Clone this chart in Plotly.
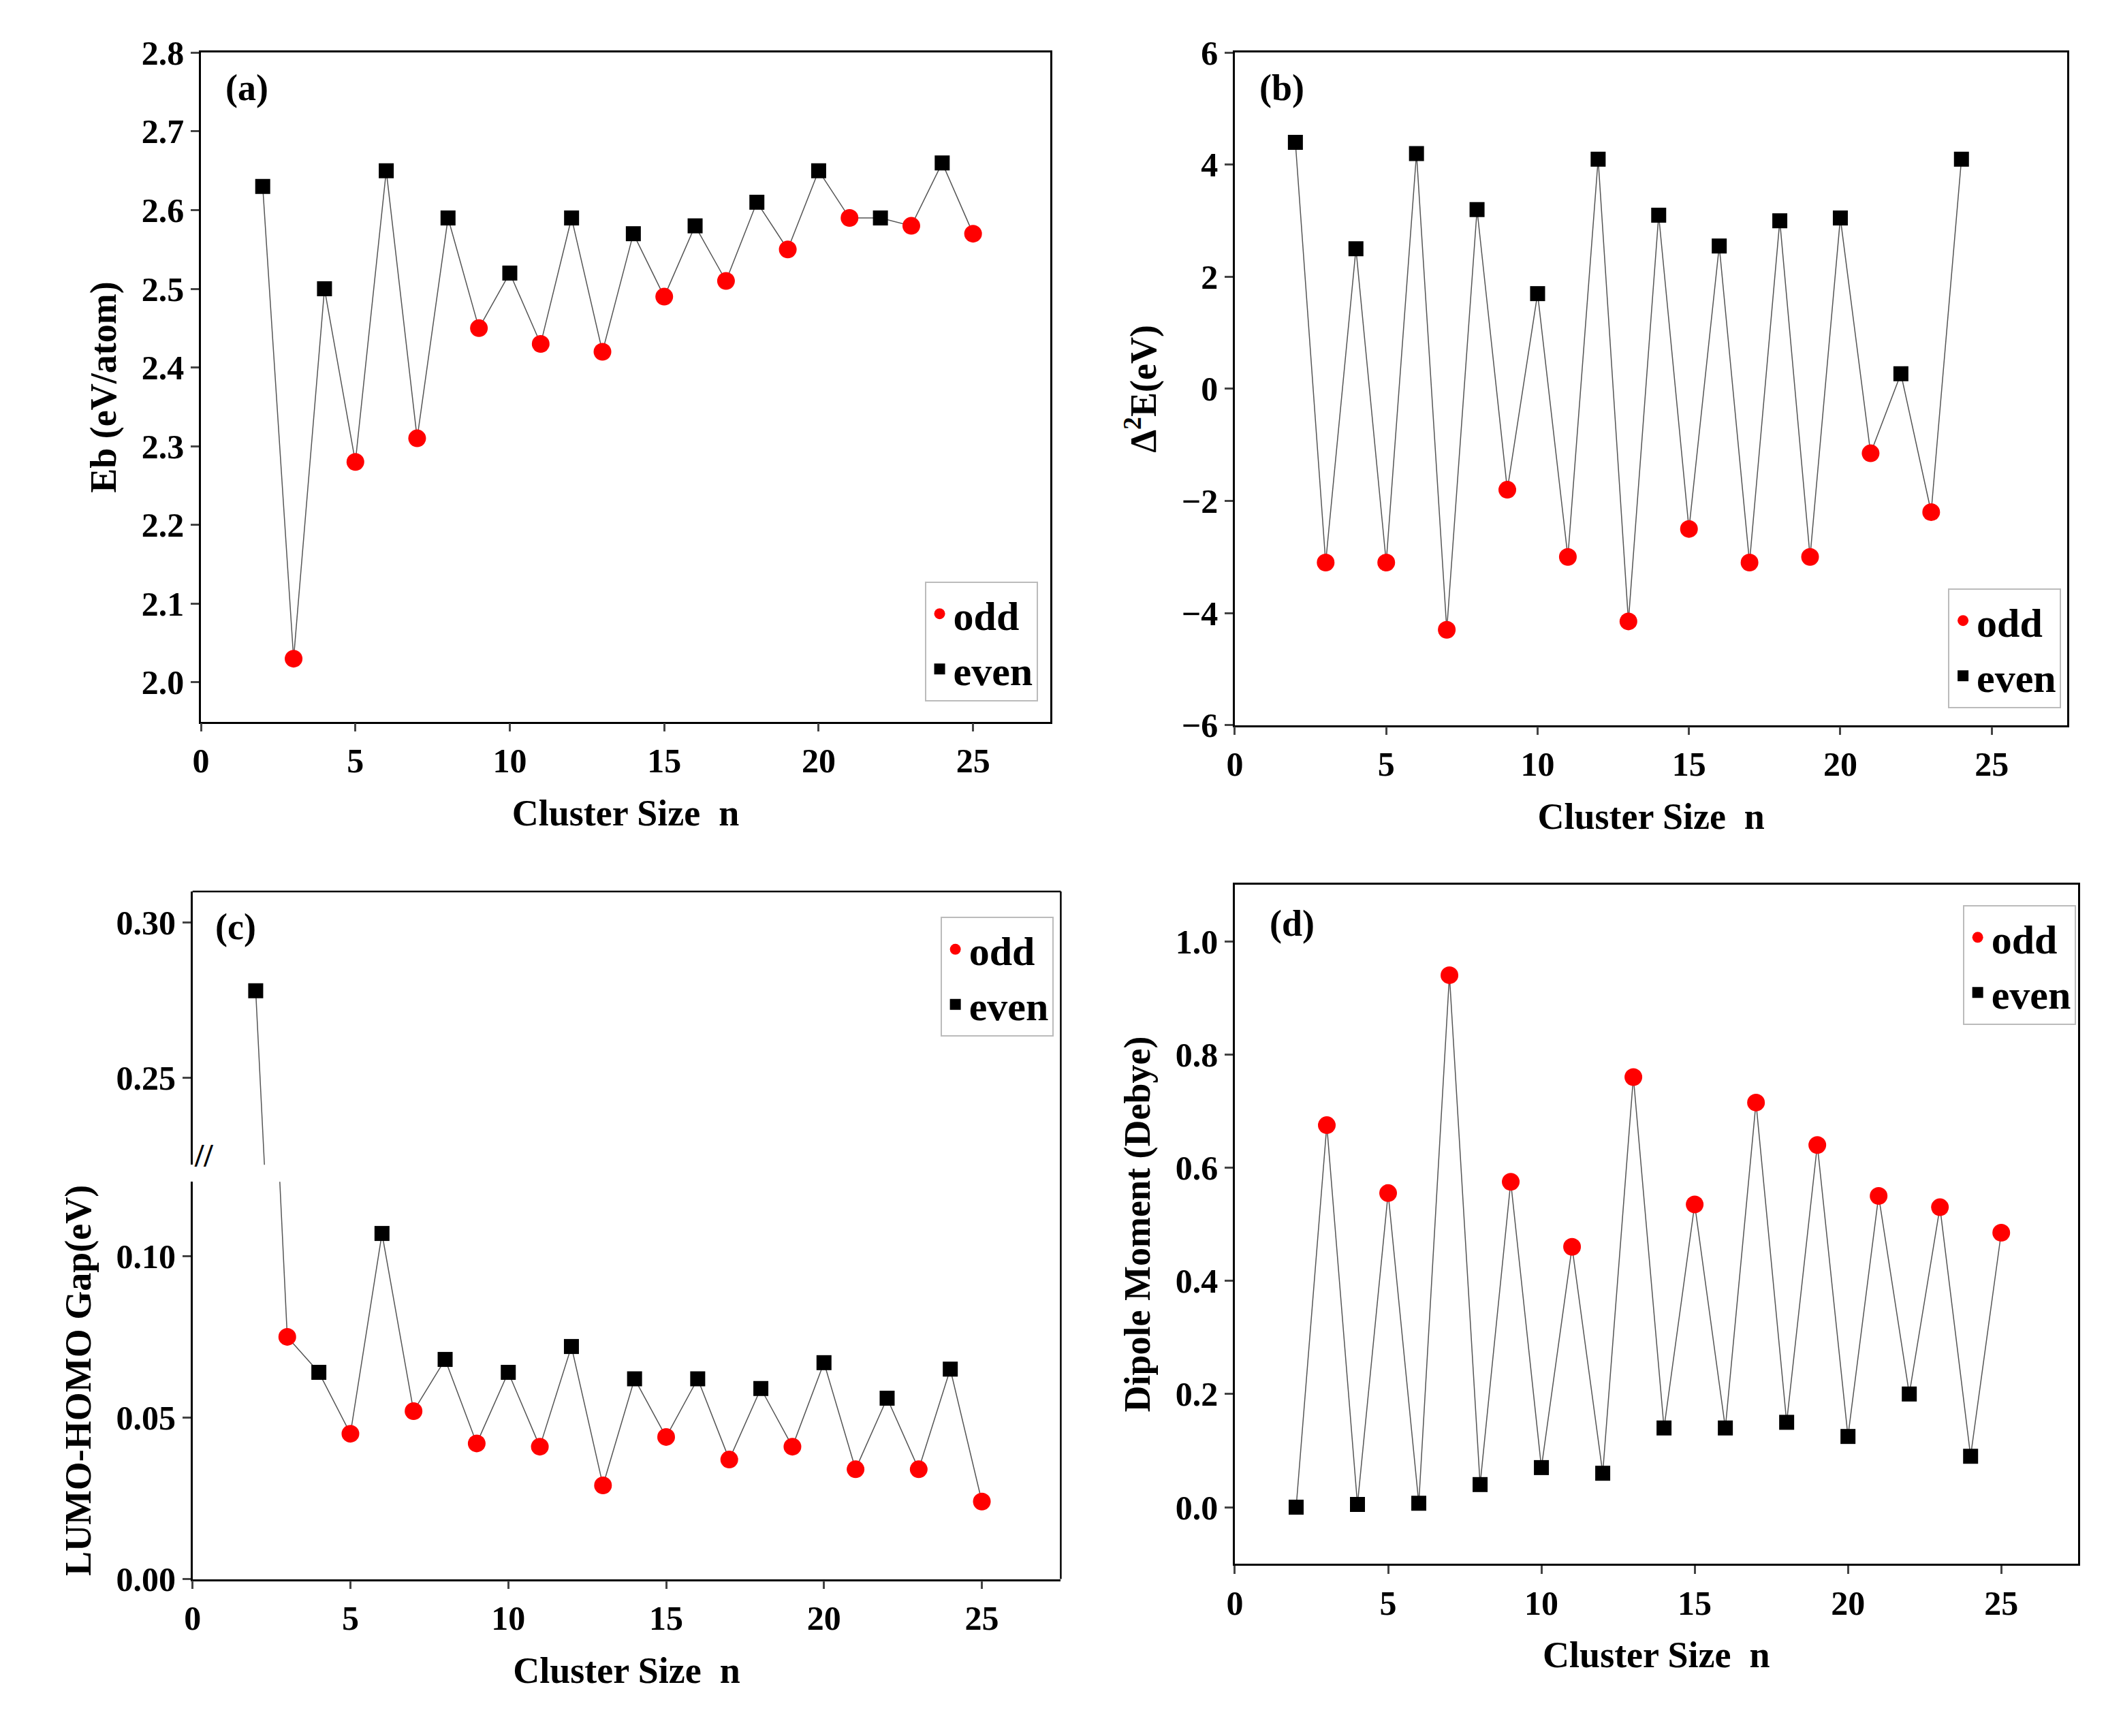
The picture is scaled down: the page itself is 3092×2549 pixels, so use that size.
import plotly.graph_objects as go

n_a = list(range(2, 26))
eb = [2.63, 2.03, 2.50, 2.28, 2.65, 2.31, 2.59, 2.45, 2.52, 2.43, 2.59, 2.42,
      2.57, 2.49, 2.58, 2.51, 2.61, 2.55, 2.65, 2.59, 2.59, 2.58, 2.66, 2.57]
n_b = list(range(2, 25))
d2e = [4.4, -3.1, 2.5, -3.1, 4.2, -4.3, 3.2, -1.8, 1.7, -3.0, 4.1, -4.15,
       3.1, -2.5, 2.55, -3.1, 3.0, -3.0, 3.05, -1.15, 0.27, -2.2, 4.1]
n_c = list(range(2, 26))
gap = [0.278, 0.075, 0.064, 0.045, 0.107, 0.052, 0.068, 0.042, 0.064, 0.041, 0.072, 0.029,
       0.062, 0.044, 0.062, 0.037, 0.059, 0.041, 0.067, 0.034, 0.056, 0.034, 0.065, 0.024]
n_d = list(range(2, 26))
dip = [0.0, 0.675, 0.005, 0.555, 0.007, 0.94, 0.04, 0.575, 0.07, 0.46, 0.06, 0.76,
       0.14, 0.535, 0.14, 0.715, 0.15, 0.64, 0.125, 0.55, 0.2, 0.53, 0.09, 0.485]

FONT = "Liberation Serif"
fig = go.Figure()


def add_series(n, y, xa, ya, legend, showleg=True):
    fig.add_trace(go.Scatter(x=n, y=y, mode="lines", line=dict(color="#555555", width=1.5),
                             xaxis=xa, yaxis=ya, showlegend=False, hoverinfo="skip"))
    odd = [(a, b) for a, b in zip(n, y) if a % 2 == 1]
    even = [(a, b) for a, b in zip(n, y) if a % 2 == 0]
    fig.add_trace(go.Scatter(x=[p[0] for p in odd], y=[p[1] for p in odd], mode="markers",
                             marker=dict(color="red", size=26, symbol="circle"), name="odd",
                             xaxis=xa, yaxis=ya, legend=legend, showlegend=showleg))
    fig.add_trace(go.Scatter(x=[p[0] for p in even], y=[p[1] for p in even], mode="markers",
                             marker=dict(color="black", size=22, symbol="square"), name="even",
                             xaxis=xa, yaxis=ya, legend=legend, showlegend=showleg))


add_series(n_a, eb, "x", "y", "legend")
add_series(n_b, d2e, "x2", "y2", "legend2")
add_series(n_c, gap, "x3", "y3", "legend3")
add_series(n_c, gap, "x3", "y5", "legend3", showleg=False)
add_series(n_d, dip, "x4", "y4", "legend4")

ax = dict(showline=True, linecolor="black", linewidth=2.5, mirror=True, ticks="outside",
          ticklen=12, tickwidth=2.5, showgrid=False, zeroline=False,
          tickfont=dict(family=FONT, size=50, color="black", weight="bold"))
title_font = dict(family=FONT, size=54, color="black")

xt = dict(text="<b>Cluster Size  n</b>", font=title_font)
fig.update_layout(
    width=3092, height=2549, margin=dict(l=0, r=0, t=0, b=0),
    plot_bgcolor="white", paper_bgcolor="white",
    font=dict(family=FONT, color="black"),
    xaxis=dict(ax, domain=[0.089, 0.494], range=[0, 27.5], dtick=5, anchor="y", title=xt),
    yaxis=dict(ax, domain=[0.589, 0.983], range=[1.95, 2.8], dtick=0.1, tickformat=".1f",
               anchor="x", title=dict(text="<b>Eb (eV/atom)</b>", font=title_font)),
    xaxis2=dict(ax, domain=[0.582, 0.979], range=[0, 27.5], dtick=5, anchor="y2", title=xt),
    yaxis2=dict(ax, domain=[0.587, 0.983], range=[-6, 6], dtick=2, anchor="x2",
                title=dict(text="<b>Δ<sup>2</sup>E(eV)</b>", font=title_font)),
    xaxis3=dict(ax, domain=[0.085, 0.499], range=[0, 27.5], dtick=5, anchor="y3", mirror=False,
                title=xt),
    yaxis3=dict(ax, domain=[0.084, 0.318], range=[0, 0.123], dtick=0.05, tickformat=".2f",
                anchor="x3", mirror=False,
                title=dict(text="<b>LUMO-HOMO Gap(eV)</b>", font=title_font)),
    yaxis5=dict(ax, domain=[0.328, 0.489], range=[0.222, 0.31], tickvals=[0.25, 0.30],
                tickformat=".2f", anchor="x3", mirror=False),
    xaxis4=dict(ax, domain=[0.582, 0.984], range=[0, 27.5], dtick=5, anchor="y4", title=xt),
    yaxis4=dict(ax, domain=[0.093, 0.493], range=[-0.1, 1.1], dtick=0.2, tickformat=".1f",
                anchor="x4", title=dict(text="<b>Dipole Moment (Debye)</b>", font=title_font)),
)
fig.update_xaxes(title_standoff=30)
fig.update_yaxes(title_standoff=20)

leg = dict(font=dict(family=FONT, size=60, color="black", weight="bold"), bordercolor="#bbbbbb",
           borderwidth=2, bgcolor="white", itemsizing="trace", tracegroupgap=0)
fig.update_layout(
    legend=dict(leg, x=0.488, y=0.601, xanchor="right", yanchor="bottom"),
    legend2=dict(leg, x=0.976, y=0.597, xanchor="right", yanchor="bottom"),
    legend3=dict(leg, x=0.4955, y=0.474, xanchor="right", yanchor="top"),
    legend4=dict(leg, x=0.983, y=0.481, xanchor="right", yanchor="top"),
)

# frame for the broken axis panel (c)
fig.add_shape(type="line", xref="paper", yref="paper", x0=0.499, x1=0.499, y0=0.084, y1=0.489,
              line=dict(color="black", width=2.5))
fig.add_shape(type="line", xref="paper", yref="paper", x0=0.085, x1=0.499, y0=0.489, y1=0.489,
              line=dict(color="black", width=2.5))
fig.add_annotation(text="<b>//</b>", xref="paper", yref="paper", x=0.085, y=0.322,
                   showarrow=False, font=dict(family=FONT, size=48), bgcolor="white")

for txt, x, y in [("(a)", 0.100, 0.975), ("(b)", 0.593, 0.975),
                  ("(c)", 0.095, 0.481), ("(d)", 0.598, 0.483)]:
    fig.add_annotation(text=f"<b>{txt}</b>", xref="paper", yref="paper", x=x, y=y,
                       xanchor="left", yanchor="top", showarrow=False,
                       font=dict(family=FONT, size=54, color="black"))

fig.write_html("out.html")
